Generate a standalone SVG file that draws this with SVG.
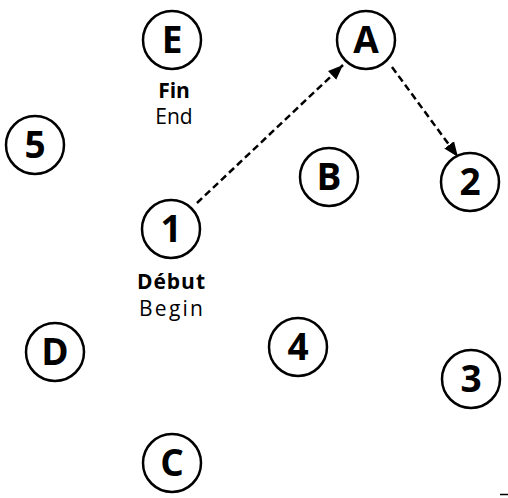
<svg xmlns="http://www.w3.org/2000/svg" width="508" height="498" viewBox="0 0 508 498">
<style>
.n circle{fill:#fff;stroke:#000;stroke-width:2.5}
.n text{font-family:"Open Sans","Noto Sans","Liberation Sans",sans-serif;font-weight:bold;font-size:37px;text-anchor:middle;fill:#000}
.lb{font-family:"Open Sans","Noto Sans","Liberation Sans",sans-serif;font-size:21px;text-anchor:middle;fill:#000}
.lb .b{font-weight:bold}
.c{stroke:#000;stroke-width:2.5;stroke-dasharray:7 4;fill:none;marker-end:url(#ah)}
</style>
<defs>
<marker id="ah" markerWidth="16" markerHeight="14" refX="15" refY="7" orient="auto" markerUnits="userSpaceOnUse"><path d="M0,1 L15,7 L0,13 Z" fill="#000"/></marker>
</defs>
<rect width="508" height="498" fill="#fff"/>
<g id="connectors">
<line class="c" x1="197" y1="203" x2="343" y2="65"/>
<line class="c" x1="392" y1="67" x2="458" y2="157"/>
</g>
<g id="E" class="n"><circle cx="172" cy="40" r="29"/><text x="172" y="53">E</text></g>
<g id="A" class="n"><circle cx="366" cy="40" r="29"/><text x="366" y="53">A</text></g>
<g id="n5" class="n"><circle cx="35" cy="145" r="29"/><text x="35" y="158">5</text></g>
<g id="B" class="n"><circle cx="329" cy="177" r="29"/><text x="329" y="190">B</text></g>
<g id="n2" class="n"><circle cx="470" cy="182" r="29"/><text x="470" y="195">2</text></g>
<g id="n1" class="n"><circle cx="171" cy="229" r="29"/><text x="171" y="242">1</text></g>
<g id="D" class="n"><circle cx="55" cy="352" r="29"/><text x="55" y="365">D</text></g>
<g id="n4" class="n"><circle cx="298" cy="347" r="29"/><text x="298" y="360">4</text></g>
<g id="n3" class="n"><circle cx="471" cy="379" r="29"/><text x="471" y="392">3</text></g>
<g id="C" class="n"><circle cx="172" cy="463" r="29"/><text x="172" y="476">C</text></g>
<g id="labelE" class="lb"><text class="b" x="174" y="98">Fin</text><text x="174" y="124">End</text></g>
<g id="label1" class="lb"><text class="b" x="171" y="289" textLength="68" lengthAdjust="spacing">Début</text><text x="171" y="316" textLength="64" lengthAdjust="spacing">Begin</text></g>
<line x1="500" y1="494.5" x2="508" y2="494.5" stroke="#000" stroke-width="1.5"/>
</svg>
